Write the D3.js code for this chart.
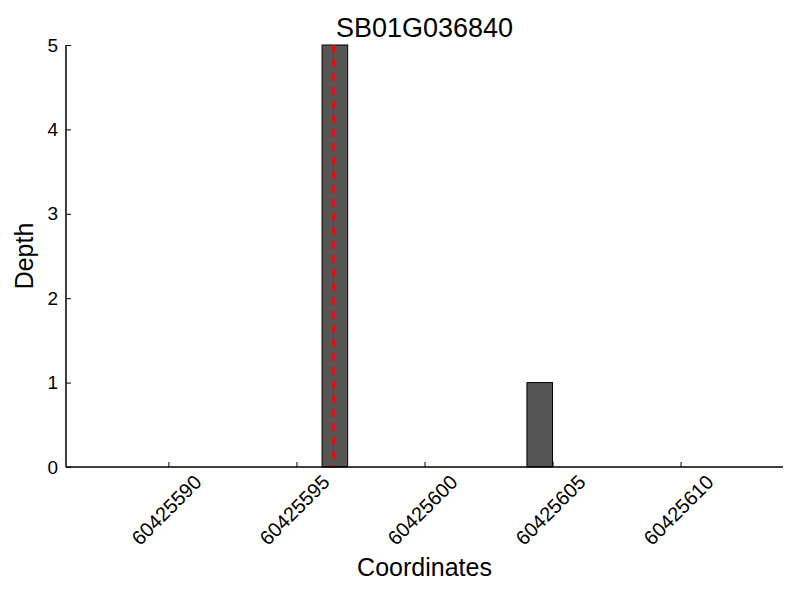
<!DOCTYPE html>
<html>
<head>
<meta charset="utf-8">
<script src="https://cdn.jsdelivr.net/npm/d3@7"></script>
<style>
  body { margin: 0; background: #fff; }
  text { font-family: "Liberation Sans", Arial, sans-serif; fill: #000; }
</style>
</head>
<body>
<div id="chart"></div>
<script>
// data
const title = 'SB01G036840';
const positions = [60425596, 60425604];
const depths = [5, 1];
const markerPos = [60425596.45];
const xTicks = [60425590, 60425595, 60425600, 60425605, 60425610];
const yTicks = [0, 1, 2, 3, 4, 5];
const xDomain = [60425586, 60425614];
const yDomain = [0, 5];

const margin = { top: 45, right: 17, bottom: 133, left: 66 };
const width = 800 - margin.left - margin.right;
const height = 600 - margin.top - margin.bottom;

const svg = d3
    .select('#chart')
    .append('svg')
    .attr('width', 800)
    .attr('height', 600)
    .append('g')
    .attr('transform', `translate(${margin.left}, ${margin.top})`);

const xScale = d3.scaleLinear().domain(xDomain).range([0, width]);
const yScale = d3.scaleLinear().domain(yDomain).range([height, 0]);

// bars, edge aligned, width 1 coordinate
svg
    .selectAll('.bar')
    .data(positions.map((p, i) => ({ pos: p, depth: depths[i] })))
    .enter()
    .append('rect')
    .attr('class', 'bar')
    .attr('x', d => xScale(d.pos))
    .attr('y', d => yScale(d.depth))
    .attr('width', d => xScale(d.pos + 1) - xScale(d.pos))
    .attr('height', d => yScale(0) - yScale(d.depth))
    .attr('fill', '#555555')
    .attr('stroke', '#000')
    .attr('stroke-width', 1);

// red dashed marker
svg
    .selectAll('.marker')
    .data(markerPos)
    .enter()
    .append('line')
    .attr('x1', d => xScale(d))
    .attr('x2', d => xScale(d))
    .attr('y1', yScale(yDomain[1]))
    .attr('y2', yScale(yDomain[0]))
    .attr('stroke', '#ff0000')
    .attr('stroke-width', 2.5)
    .attr('stroke-dasharray', '8 6');

// axes, ticks point inward
const xAxis = svg
    .append('g')
    .attr('transform', `translate(0, ${height})`)
    .call(d3.axisTop(xScale).tickValues(xTicks).tickSize(5).tickFormat(''));
xAxis.select('.domain').remove();
xAxis.selectAll('line').attr('stroke-width', 1);

svg
    .selectAll('.xlabel')
    .data(xTicks)
    .enter()
    .append('text')
    .attr('transform', d => `translate(${xScale(d) - 2}, ${height + 43}) rotate(-45)`)
    .attr('text-anchor', 'middle')
    .attr('dominant-baseline', 'central')
    .style('font-size', '20px')
    .text(d => d);

const yAxis = svg
    .append('g')
    .call(d3.axisRight(yScale).tickValues(yTicks).tickSize(5).tickFormat(''));
yAxis.select('.domain').remove();
yAxis.selectAll('line').attr('stroke-width', 1);

svg
    .selectAll('.ylabel')
    .data(yTicks)
    .enter()
    .append('text')
    .attr('x', -8)
    .attr('y', d => yScale(d))
    .attr('text-anchor', 'end')
    .attr('dominant-baseline', 'central')
    .style('font-size', '19px')
    .text(d => d);

// spines: left and bottom only
svg.append('line')
    .attr('x1', 0).attr('x2', 0)
    .attr('y1', 0).attr('y2', height)
    .attr('stroke', '#000').attr('stroke-width', 1.5);
svg.append('line')
    .attr('x1', 0).attr('x2', width)
    .attr('y1', height).attr('y2', height)
    .attr('stroke', '#000').attr('stroke-width', 1.5);

// labels
svg.append('text')
    .attr('x', width / 2)
    .attr('y', -8)
    .attr('text-anchor', 'middle')
    .style('font-size', '27px')
    .text(title);

svg.append('text')
    .attr('x', width / 2)
    .attr('y', height + 109)
    .attr('text-anchor', 'middle')
    .style('font-size', '25px')
    .text('Coordinates');

svg.append('text')
    .attr('transform', `translate(${-33}, ${height / 2}) rotate(-90)`)
    .attr('text-anchor', 'middle')
    .style('font-size', '25px')
    .text('Depth');
</script>
</body>
</html>
